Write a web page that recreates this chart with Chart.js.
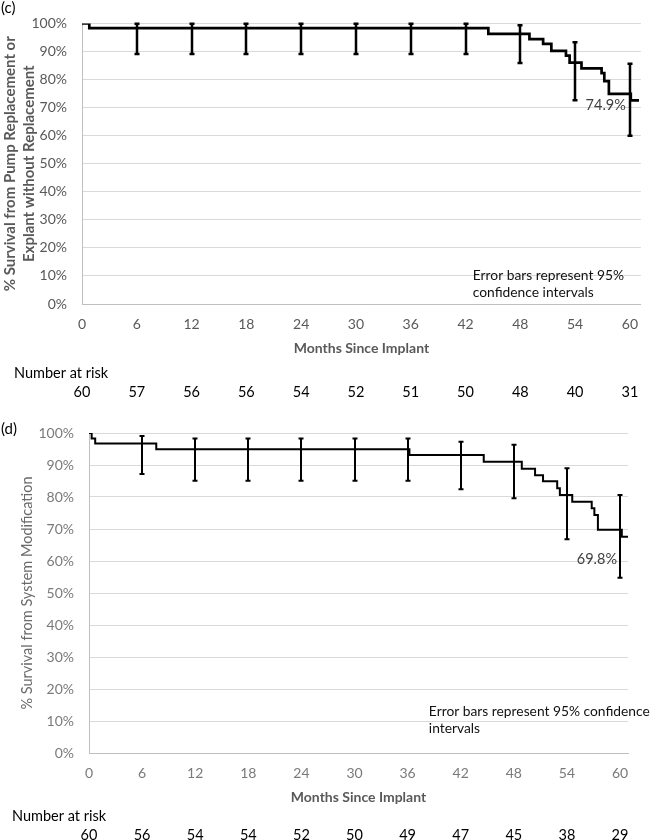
<!DOCTYPE html>
<html>
<head>
<meta charset="utf-8">
<script src="https://cdn.jsdelivr.net/npm/chart.js@4.4.1/dist/chart.umd.min.js"></script>
<style>
  html, body { margin: 0; padding: 0; background: #fff; }
  #wrap { position: relative; width: 650px; height: 840px; overflow: hidden; }
  canvas { position: absolute; left: 0; }
  #chartC { top: 0; }
  #chartD { top: 400px; }
</style>
</head>
<body>
<div id="wrap">
  <canvas id="chartC" width="650" height="400"></canvas>
  <canvas id="chartD" width="650" height="440"></canvas>
</div>
<script>
// ---- shared axis values ----
const xTicks = [0, 6, 12, 18, 24, 30, 36, 42, 48, 54, 60];

// ---- panel (c): pump replacement / explant ----
const monthsC = [0, 0.8, 44.5, 49.0, 50.5, 51.4, 53.0, 53.4, 54.7, 56.9, 57.2, 57.7, 60.1, 61.0];
const survC   = [100, 98.3, 96.3, 94.4, 92.7, 90.2, 88.5, 86.0, 84.0, 82.3, 79.4, 74.9, 72.6, 72.6];
const ciMonthsC = [6, 12, 18, 24, 30, 36, 42, 48, 54, 60];
const ciHighC   = [99.9, 99.9, 99.9, 99.9, 99.9, 99.9, 99.9, 99.3, 93.3, 85.6];
const ciLowC    = [89.1, 89.1, 89.1, 89.1, 89.1, 89.1, 89.1, 85.9, 72.6, 60.0];
const riskC     = [60, 57, 56, 56, 54, 52, 51, 50, 48, 40, 31];

// ---- panel (d): system modification ----
const monthsD = [0, 0.3, 0.7, 7.6, 36.2, 44.6, 48.9, 50.4, 51.3, 52.9, 53.2, 54.6, 56.8, 57.1, 57.5, 60.2, 60.9];
const survD   = [100, 98.3, 96.7, 94.9, 93.1, 91.0, 88.8, 86.8, 84.9, 82.7, 80.6, 78.5, 76.5, 74.4, 69.8, 67.6, 67.6];
const ciMonthsD = [6, 12, 18, 24, 30, 36, 42, 48, 54, 60];
const ciHighD   = [99.1, 98.3, 98.3, 98.3, 98.3, 98.3, 97.3, 96.3, 89.0, 80.6];
const ciLowD    = [87.2, 85.1, 85.1, 85.1, 85.1, 85.1, 82.4, 79.6, 66.8, 54.8];
const riskD     = [60, 56, 54, 54, 52, 50, 49, 47, 45, 38, 29];

const FONT = 'Lato, "Open Sans", sans-serif';

// survival value in effect at a given month (step function)
function survAt(months, surv, t) {
  let v = surv[0];
  months.forEach((m, i) => { if (m <= t) v = surv[i]; });
  return v;
}

// error bars, end label, notes and the number-at-risk row
const kmExtras = {
  id: 'kmExtras',
  afterDatasetsDraw(chart, args, opts) {
    const { ctx } = chart;
    const xs = chart.scales.x, ys = chart.scales.y;
    ctx.save();
    ctx.strokeStyle = '#000';
    ctx.lineWidth = opts.barWidth;
    ctx.lineCap = 'butt';
    opts.ciMonths.forEach((m, i) => {
      const px = Math.round(xs.getPixelForValue(m));
      const top = ys.getPixelForValue(opts.ciHigh[i]);
      const bot = ys.getPixelForValue(opts.ciLow[i]);
      ctx.beginPath();
      ctx.moveTo(px, top);
      ctx.lineTo(px, bot);
      ctx.moveTo(px - opts.cap, top);
      ctx.lineTo(px + opts.cap, top);
      ctx.moveTo(px - opts.cap, bot);
      ctx.lineTo(px + opts.cap, bot);
      ctx.stroke();
    });
    ctx.restore();
  },
  afterDraw(chart, args, opts) {
    const { ctx } = chart;
    const xs = chart.scales.x, ys = chart.scales.y;
    ctx.save();
    ctx.textBaseline = 'middle';

    // panel letter
    ctx.fillStyle = '#000';
    ctx.font = '15px ' + FONT;
    ctx.textAlign = 'left';
    ctx.fillText(opts.panel, 1, opts.panelY);

    // value at 60 months
    const v = survAt(opts.months, opts.surv, opts.labelMonth);
    ctx.fillStyle = '#404040';
    ctx.font = '14.5px ' + FONT;
    ctx.textAlign = 'right';
    ctx.fillText(v.toFixed(1) + '%',
      xs.getPixelForValue(opts.labelMonth) + opts.labelDx,
      ys.getPixelForValue(v) + opts.labelDy);

    // note
    ctx.fillStyle = '#111';
    ctx.font = '13.8px ' + FONT;
    ctx.textAlign = 'left';
    const nx = xs.getPixelForValue(opts.noteAt[0]);
    const ny = ys.getPixelForValue(opts.noteAt[1]);
    opts.note.forEach((line, i) => ctx.fillText(line, nx, ny + i * 17));

    // number at risk
    ctx.fillStyle = '#000';
    ctx.font = '14.5px ' + FONT;
    ctx.textAlign = 'left';
    ctx.fillText('Number at risk', opts.riskX, opts.riskTitleY);
    ctx.textAlign = 'center';
    xTicks.forEach((m, i) => {
      ctx.fillText(String(opts.risk[i]), xs.getPixelForValue(m), opts.riskY);
    });
    ctx.restore();
  }
};

function makeChart(id, cfg) {
  return new Chart(document.getElementById(id), {
    type: 'line',
    data: {
      datasets: [{
        data: cfg.months.map((m, i) => ({ x: m, y: cfg.surv[i] })),
        stepped: true,
        borderColor: '#000',
        borderWidth: cfg.lineWidth,
        borderJoinStyle: 'miter',
        pointRadius: 0,
        fill: false
      }]
    },
    options: {
      responsive: false,
      animation: false,
      devicePixelRatio: 1,
      layout: { padding: { top: cfg.top, right: cfg.right, left: 0, bottom: 0 } },
      plugins: {
        legend: { display: false },
        tooltip: { enabled: false },
        kmExtras: cfg.extras
      },
      scales: {
        x: {
          type: 'linear',
          min: 0,
          max: cfg.xMax,
          afterBuildTicks: s => { s.ticks = xTicks.map(v => ({ value: v })); },
          afterFit: s => { s.height = cfg.xHeight; },
          grid: { display: false, drawTicks: false },
          border: { display: true, color: '#bfbfbf', width: 1 },
          ticks: { color: cfg.tickColor, padding: 12, maxRotation: 0, font: { family: FONT, size: 14 } },
          title: {
            display: true,
            text: 'Months Since Implant',
            color: '#595959',
            padding: { top: 0, bottom: cfg.xTitlePad },
            font: { family: FONT, size: 14, weight: 'bold' }
          }
        },
        y: {
          min: 0,
          max: 100,
          afterFit: s => { s.width = cfg.yWidth; },
          grid: { color: '#d9d9d9', lineWidth: 1, drawTicks: false },
          border: { display: true, color: '#bfbfbf', width: 1 },
          ticks: {
            stepSize: 10,
            color: cfg.tickColor,
            padding: 15,
            font: { family: FONT, size: 14 },
            callback: v => v + '%'
          },
          title: {
            display: true,
            text: cfg.yTitle,
            color: cfg.yTitleColor,
            padding: { top: cfg.yTitlePad, bottom: 0 },
            font: { family: FONT, size: cfg.yTitleSize, weight: cfg.yTitleWeight, lineHeight: 1.3 }
          }
        }
      }
    },
    plugins: [kmExtras]
  });
}

makeChart('chartC', {
  months: monthsC, surv: survC, lineWidth: 2.7,
  top: 22, right: 0, xMax: 61.2, xHeight: 96, xTitlePad: 43.6, yWidth: 82, yTitlePad: 0,
  tickColor: '#595959', yTitleColor: '#595959', yTitleSize: 15, yTitleWeight: 'bold',
  yTitle: ['% Survival from Pump Replacement or', 'Explant without Replacement'],
  extras: {
    ciMonths: ciMonthsC, ciHigh: ciHighC, ciLow: ciLowC, barWidth: 2.5, cap: 2.5,
    months: monthsC, surv: survC, labelMonth: 60, labelDx: -4, labelDy: 11,
    note: ['Error bars represent 95%', 'confidence intervals'], noteAt: [42.8, 10.3],
    panel: '(c)', panelY: 8,
    risk: riskC, riskX: 14, riskTitleY: 373, riskY: 392
  }
});

makeChart('chartD', {
  months: monthsD, surv: survD, lineWidth: 2,
  top: 33, right: 22, xMax: 60.9, xHeight: 87, xTitlePad: 34.6, yWidth: 89, yTitlePad: 17.5,
  tickColor: '#7a7a7a', yTitleColor: '#6a6a6a', yTitleSize: 14.5, yTitleWeight: 'normal',
  yTitle: '% Survival from System Modification',
  extras: {
    ciMonths: ciMonthsD, ciHigh: ciHighD, ciLow: ciLowD, barWidth: 2, cap: 2.5,
    months: monthsD, surv: survD, labelMonth: 60, labelDx: -3, labelDy: 29.5,
    note: ['Error bars represent 95% confidence', 'intervals'], noteAt: [38.4, 12.8],
    panel: '(d)', panelY: 29,
    risk: riskD, riskX: 12, riskTitleY: 416, riskY: 435
  }
});
</script>
</body>
</html>
